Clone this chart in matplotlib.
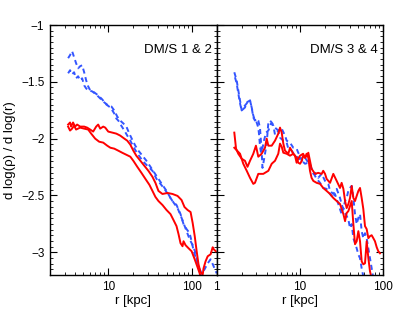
import matplotlib
matplotlib.use("Agg")
import matplotlib.pyplot as plt
from matplotlib.ticker import FixedLocator, NullFormatter, MultipleLocator, FuncFormatter, LogLocator

plt.rcParams['font.family'] = ['Liberation Sans', 'DejaVu Sans']

# ---------------- Left panel: DM/S 1 & 2 ----------------
left_red1_r = [3.30, 3.48, 3.58, 3.78, 4.00, 4.23, 4.60, 5.14, 5.58, 6.07, 6.59, 7.16, 7.57, 8.0, 8.70, 9.20,
               10.0, 11.2, 12.5, 13.9, 15.6, 16.9, 18.4, 20.0, 21.7, 24.3, 27.1, 30.3, 33.9, 36.8, 40.0, 44.7,
               51.4, 59.0, 67.8, 75.7, 82.2, 89.5, 97.2, 103, 109, 115, 121, 128, 136, 139, 147, 156, 169, 179, 184, 195]
left_red1_y = [-1.876, -1.858, -1.894, -1.858, -1.894, -1.876, -1.894, -1.894, -1.903, -1.920, -1.938, -1.894,
               -1.876, -1.912, -1.894, -1.903, -1.938, -1.947, -1.956, -1.973, -2.000, -2.018, -2.053, -2.106,
               -2.150, -2.195, -2.239, -2.283, -2.336, -2.389, -2.460, -2.487, -2.478, -2.487, -2.504, -2.540,
               -2.602, -2.628, -2.646, -2.743, -2.858, -2.991, -3.106, -3.177, -3.195, -3.142, -3.080, -3.035,
               -3.018, -2.956, -2.973, -2.991]

left_red2_r = [3.30, 3.48, 3.68, 3.89, 4.11, 4.60, 5.14, 5.74, 6.24, 6.97, 7.78, 8.70, 9.72, 10.6, 11.8, 13.2,
               14.7, 16.5, 18.4, 20.0, 22.3, 25.0, 27.9, 31.2, 33.9, 36.8, 40.0, 44.7, 50.0, 55.8, 60.7, 65.9,
               69.7, 73.6, 77.8, 80.0, 84.7, 92.0, 100, 109, 118, 125, 132]
left_red2_y = [-1.894, -1.929, -1.912, -1.885, -1.920, -1.903, -1.912, -1.920, -1.956, -2.000, -2.027, -2.035,
               -2.062, -2.080, -2.088, -2.106, -2.124, -2.142, -2.159, -2.195, -2.248, -2.301, -2.354, -2.407,
               -2.460, -2.513, -2.549, -2.584, -2.628, -2.664, -2.717, -2.770, -2.841, -2.920, -2.947, -2.903,
               -2.938, -2.965, -2.991, -3.062, -3.133, -3.186, -3.257]

left_blue1_r = [3.30, 3.48, 3.68, 3.89, 4.11, 4.35, 4.60, 4.86, 5.14, 5.43, 5.74, 6.07, 6.78, 7.57, 8.47, 9.46,
                10.6, 11.2, 11.8, 12.5, 13.2, 14.3, 15.6, 16.9, 18.4, 20.0, 21.7, 24.3, 27.1, 30.3, 33.9, 37.9,
                42.3, 47.2, 52.8, 59.0, 65.9, 73.6, 80.0, 87.0, 94.6, 100, 106, 112, 118, 125, 132, 143, 156,
                169, 184, 200]
left_blue1_y = [-1.292, -1.265, -1.230, -1.283, -1.336, -1.381, -1.363, -1.354, -1.416, -1.487, -1.540, -1.575,
                -1.593, -1.619, -1.655, -1.699, -1.726, -1.752, -1.779, -1.823, -1.841, -1.885, -1.929, -1.973,
                -2.018, -2.071, -2.115, -2.168, -2.212, -2.248, -2.283, -2.354, -2.398, -2.442, -2.496, -2.549,
                -2.584, -2.664, -2.752, -2.796, -2.832, -2.903, -2.991, -3.044, -3.097, -3.150, -3.186, -3.150,
                -3.097, -3.062, -3.124, -3.186]

left_blue2_r = [3.30, 3.48, 3.68, 3.89, 4.11, 4.35, 4.60, 4.86, 5.14, 5.43, 5.74, 6.41, 7.16, 8.0, 8.95, 10.0,
                10.9, 11.8, 12.8, 13.9, 15.2, 16.5, 17.9, 19.4, 21.1, 23.0, 25.7, 28.7, 32.1, 35.8, 40.0, 44.7,
                50.0, 55.8, 62.4, 67.8, 73.6, 80.0, 87.0, 94.6, 103, 112, 118, 125, 132]
left_blue2_y = [-1.425, -1.398, -1.434, -1.416, -1.469, -1.451, -1.487, -1.469, -1.531, -1.558, -1.575, -1.584,
                -1.611, -1.646, -1.681, -1.708, -1.717, -1.752, -1.805, -1.841, -1.867, -1.894, -1.956, -2.009,
                -2.062, -2.106, -2.150, -2.195, -2.248, -2.301, -2.354, -2.407, -2.460, -2.522, -2.575, -2.611,
                -2.673, -2.743, -2.814, -2.885, -2.938, -3.009, -3.097, -3.168, -3.221]

# ---------------- Right panel: DM/S 3 & 4 ----------------
right_red1_r = [1.63, 1.71, 1.82, 2.00, 2.19, 2.35, 2.52, 2.76, 2.97, 3.17, 3.48, 3.82, 4.00, 4.19, 4.60, 5.04,
                5.52, 5.79, 6.07, 6.35, 6.65, 7.30, 7.64, 8.37, 8.78, 9.18, 9.60, 10.1, 11.0, 11.6, 12.1, 12.7,
                13.3, 13.9, 15.3, 16.7, 18.4, 19.2, 20.2, 21.1, 23.2, 25.4, 27.9, 30.6, 32.0, 33.6, 35.2, 36.8,
                38.6, 40.4, 42.3, 44.3, 46.4, 48.6, 50.9, 53.3, 55.8, 58.4, 61.2, 64.1, 67.2, 70.3, 73.6, 77.1,
                80.7, 84.7, 88.5, 92.8]
right_red1_y = [-1.947, -2.088, -2.133, -2.177, -2.195, -2.248, -2.195, -2.133, -2.062, -2.159, -2.133, -2.080,
                -2.000, -2.062, -2.062, -2.018, -1.956, -1.903, -1.947, -2.044, -2.106, -2.133, -2.080, -2.133,
                -2.150, -2.212, -2.177, -2.150, -2.133, -2.168, -2.150, -2.124, -2.195, -2.265, -2.310, -2.301,
                -2.310, -2.283, -2.310, -2.354, -2.389, -2.310, -2.372, -2.434, -2.389, -2.442, -2.549, -2.611,
                -2.575, -2.522, -2.416, -2.522, -2.549, -2.504, -2.460, -2.434, -2.522, -2.619, -2.770, -2.796,
                -2.876, -2.858, -2.850, -2.876, -2.903, -2.956, -2.991, -3.009]

right_red2_r = [1.63, 1.76, 1.91, 2.09, 2.30, 2.52, 2.76, 2.89, 3.17, 3.64, 4.19, 4.60, 5.04, 5.52, 5.79, 6.07,
                6.35, 6.97, 7.64, 8.37, 9.18, 9.60, 10.1, 10.6, 11.0, 11.6, 12.1, 12.7, 13.3, 13.9, 14.6, 16.0,
                17.6, 19.2, 21.1, 23.2, 25.4, 27.9, 30.6, 33.6, 35.2, 36.8, 38.6, 40.4, 42.3, 44.3, 46.4, 48.6,
                50.9, 53.3, 55.8, 58.4, 61.2, 64.1, 67.2, 70.3, 73.6]
right_red2_y = [-2.080, -2.106, -2.133, -2.221, -2.283, -2.345, -2.398, -2.389, -2.310, -2.310, -2.283, -2.221,
                -2.195, -2.133, -2.044, -2.071, -2.124, -2.133, -2.150, -2.133, -2.168, -2.212, -2.221, -2.195,
                -2.150, -2.168, -2.133, -2.168, -2.283, -2.345, -2.372, -2.389, -2.398, -2.434, -2.460, -2.487,
                -2.522, -2.549, -2.575, -2.664, -2.726, -2.655, -2.637, -2.593, -2.549, -2.752, -2.929, -2.903,
                -2.814, -2.903, -3.080, -3.106, -3.097, -2.903, -3.053, -3.168, -3.230]

right_blue1_r = [1.63, 1.74, 1.82, 1.91, 2.00, 2.09, 2.30, 2.40, 2.52, 2.64, 2.76, 2.89, 3.03, 3.17, 3.32, 3.48,
                 3.56, 3.64, 3.82, 4.00, 4.19, 4.39, 4.60, 5.04, 5.52, 6.07, 6.65, 6.97, 7.64, 8.37, 9.18, 9.60,
                 10.1, 10.6, 11.0, 11.6, 12.7, 13.3, 13.9, 14.6, 15.3, 16.7, 18.4, 20.2, 22.1, 23.2, 25.4, 27.9,
                 30.6, 32.0, 33.5, 35.2, 36.8, 38.5, 40.4, 42.3, 44.3, 46.4, 48.6, 50.8, 53.3, 55.8, 58.4, 61.2,
                 64.1, 67.1, 70.3, 73.7, 77.1]
right_blue1_y = [-1.416, -1.487, -1.575, -1.664, -1.752, -1.726, -1.690, -1.664, -1.664, -1.726, -1.814, -1.841,
                 -1.823, -1.841, -1.903, -2.106, -2.257, -2.221, -2.133, -2.044, -1.858, -1.841, -1.858, -1.903,
                 -1.929, -1.912, -1.973, -2.018, -2.035, -2.080, -2.088, -2.124, -2.150, -2.195, -2.177, -2.168,
                 -2.212, -2.221, -2.265, -2.310, -2.301, -2.345, -2.310, -2.372, -2.398, -2.460, -2.487, -2.442,
                 -2.522, -2.575, -2.619, -2.549, -2.522, -2.460, -2.434, -2.416, -2.522, -2.664, -2.752, -2.699,
                 -2.664, -2.814, -2.876, -2.832, -2.876, -2.965, -3.053, -3.142, -3.230]

right_blue2_r = [1.66, 1.74, 1.82, 1.91, 2.00, 2.19, 2.30, 2.52, 2.64, 2.76, 2.89, 3.03, 3.17, 3.23, 3.32, 3.42,
                 3.51, 3.71, 3.93, 4.19, 4.51, 4.81, 5.04, 5.52, 5.79, 6.35, 6.97, 7.29, 8.01, 8.78, 9.60, 10.6,
                 11.6, 12.7, 13.3, 14.6, 16.0, 17.6, 19.2, 21.1, 23.2, 25.4, 26.6, 29.2, 32.0, 33.5, 35.2, 38.5,
                 40.4, 42.3, 44.3, 48.6, 50.8, 53.3, 55.8, 58.4, 59.5]
right_blue2_y = [-1.460, -1.513, -1.602, -1.690, -1.752, -1.726, -1.681, -1.664, -1.726, -1.796, -1.841, -1.858,
                 -1.903, -1.956, -2.062, -2.124, -2.106, -2.018, -1.947, -1.929, -1.867, -1.885, -1.965, -1.929,
                 -1.991, -2.018, -2.035, -2.088, -2.106, -2.150, -2.168, -2.195, -2.221, -2.212, -2.239, -2.301,
                 -2.354, -2.389, -2.434, -2.442, -2.487, -2.522, -2.487, -2.575, -2.664, -2.611, -2.655, -2.708,
                 -2.788, -2.752, -2.876, -2.965, -3.018, -3.053, -3.142, -3.212, -3.257]

panel_labels = ["DM/S 1 & 2", "DM/S 3 & 4"]
xlims = [(2, 200), (1, 100)]
ylim = (-3.2, -1.0)
x_major = [[10, 100], [1, 10, 100]]
y_major = [-3.0, -2.5, -2.0, -1.5, -1.0]

RED = '#ff0000'
BLUE = '#3355ff'

fig = plt.figure(figsize=(4.15, 3.13), dpi=100)
axL = fig.add_axes([50 / 415, 38 / 313, 166.7 / 415, 250 / 313])
axR = fig.add_axes([216.7 / 415, 38 / 313, 166 / 415, 250 / 313])

data = [
    (axL, [(left_blue1_r, left_blue1_y), (left_blue2_r, left_blue2_y)],
          [(left_red1_r, left_red1_y), (left_red2_r, left_red2_y)]),
    (axR, [(right_blue1_r, right_blue1_y), (right_blue2_r, right_blue2_y)],
          [(right_red1_r, right_red1_y), (right_red2_r, right_red2_y)]),
]

for i, (ax, blues, reds) in enumerate(data):
    for r, y in blues:
        ax.plot(r, y, color=BLUE, lw=1.4, ls=(0, (2.6, 1.9)))
    for r, y in reds:
        ax.plot(r, y, color=RED, lw=1.4)
    ax.set_xscale('log')
    ax.set_xlim(*xlims[i])
    ax.set_ylim(*ylim)
    ax.xaxis.set_major_locator(FixedLocator(x_major[i]))
    ax.xaxis.set_minor_locator(LogLocator(base=10, subs=range(2, 10), numticks=20))
    ax.xaxis.set_minor_formatter(NullFormatter())
    ax.xaxis.set_major_formatter(FuncFormatter(lambda v, p: f"{v:g}"))
    ax.yaxis.set_major_locator(FixedLocator(y_major))
    ax.yaxis.set_minor_locator(MultipleLocator(0.05))
    ax.tick_params(which='both', direction='in', top=True, right=True, labelsize=8.5, color='black')
    ax.tick_params(which='major', length=5, width=0.8, pad=4)
    ax.tick_params(which='minor', length=2.5, width=0.6)
    for s in ax.spines.values():
        s.set_linewidth(1.0)
    ax.text(0.97, 0.9, panel_labels[i], transform=ax.transAxes, ha='right', va='center', fontsize=9.5)
    ax.set_xlabel('r [kpc]', fontsize=9.5, labelpad=2)

axL.yaxis.set_major_formatter(FuncFormatter(lambda v, p: f"{v:g}".replace('-', '\u2212')))
axL.set_ylabel('d log(\u03c1) / d log(r)', fontsize=9.5, labelpad=4)
axR.tick_params(labelleft=False)

fig.savefig('out.png', dpi=100)
